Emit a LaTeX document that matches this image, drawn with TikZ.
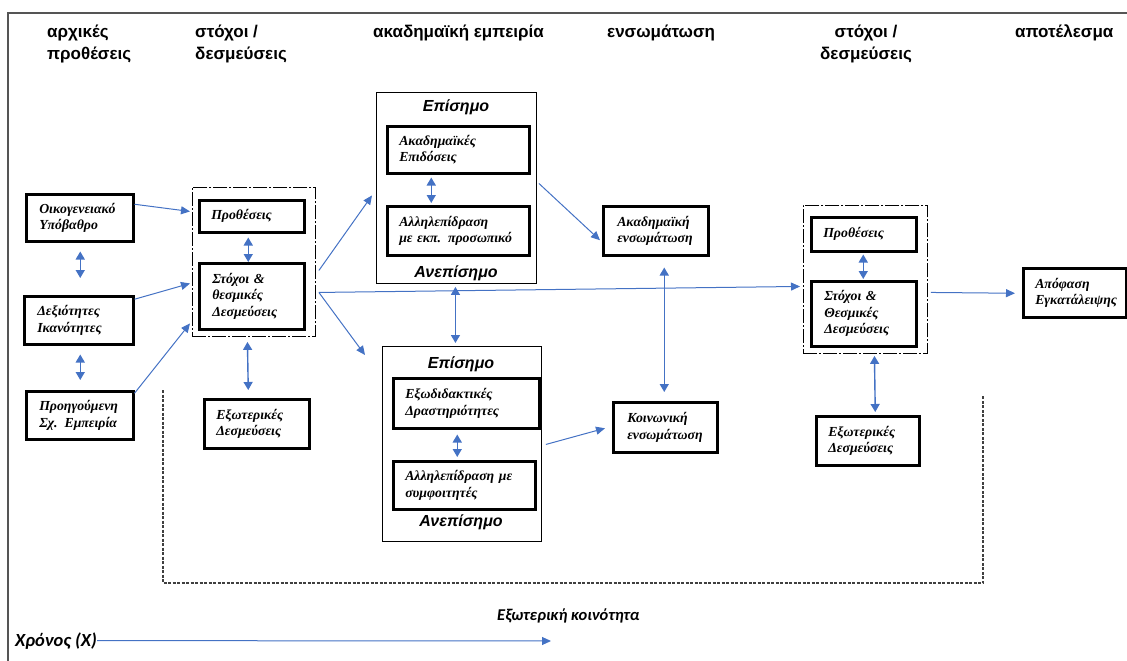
\documentclass[tikz,border=0pt]{standalone}
\usepackage{fontspec}
\newfontfamily\sansb{Liberation Sans Bold}
\newfontfamily\sansbi{Liberation Sans Bold Italic}
\newfontfamily\serbi{Liberation Serif Bold Italic}
\newfontfamily\calbi{Carlito Bold Italic}
\usetikzlibrary{arrows.meta,calc}
\definecolor{arrblue}{HTML}{4472C4}
\definecolor{framegray}{HTML}{555555}
\tikzset{
  hdr/.style={anchor=north west, inner sep=0pt, align=left, font=\sansb\fontsize{17}{21.5}\selectfont},
  bx/.style={draw, line width=2.5pt, anchor=north west, inner xsep=12pt, inner ysep=0pt, align=left,
             font=\serbi\fontsize{13.8}{16.5}\selectfont},
  outerbx/.style={draw, line width=0.9pt, anchor=north west, inner sep=0pt},
  dashbx/.style={draw, line width=0.9pt, anchor=north west, inner sep=0pt, dash pattern=on 14pt off 2pt on 2pt off 2pt},
  sub/.style={font=\sansbi\fontsize{16}{19}\selectfont, inner sep=0pt},
  arr/.style={arrblue, line width=1pt, -{Triangle[length=9pt,width=8pt]}},
  darr/.style={arrblue, line width=1.4pt, {Triangle[length=8pt,width=9pt]}-{Triangle[length=8pt,width=9pt]}},
}
\begin{document}
\begin{tikzpicture}[x=1pt,y=-1pt]
\useasboundingbox (0,0) rectangle (1127,661);
% outer frame
\draw[framegray, line width=1.6pt] (8,661) -- (8,13) -- (1127,13);

% headers
\node[hdr] (h1) at (47,25) {αρχικές\\προθέσεις};
\node[hdr] (h2) at (195,25) {στόχοι /\\δεσμεύσεις};
\node[hdr] (h3) at (373,25) {ακαδημαϊκή εμπειρία};
\node[hdr] (h4) at (607,25) {ενσωμάτωση};
\node[hdr, align=center, anchor=north] (h5) at (866,25) {στόχοι /\\δεσμεύσεις};
\node[hdr] (h6) at (1015,25) {αποτέλεσμα};

% left column
\node[bx, minimum width=107pt, minimum height=47pt, text width=81pt, inner xsep=13pt] (fam) at (25,193) {Οικογενειακό\\Υπόβαθρο};
\node[bx, minimum width=109pt, minimum height=48pt, text width=83pt, inner xsep=13pt] (skl) at (23,295) {Δεξιότητες\\Ικανότητες};
\node[bx, minimum width=107pt, minimum height=48pt, text width=81pt, inner xsep=13pt] (prev) at (25,390) {Προηγούμενη\\Σχ. Εμπειρία};

% goals 1
\node[dashbx, minimum width=123pt, minimum height=149pt] (dash1) at (192,187) {};
\node[bx, minimum width=105pt, minimum height=32pt, text width=81pt] (int1) at (198,199) {Προθέσεις};
\node[bx, minimum width=105pt, minimum height=66pt, text width=79pt, inner xsep=13pt] (goal1) at (198,262) {Στόχοι \&\\θεσμικές\\Δεσμεύσεις};
\node[bx, minimum width=105pt, minimum height=49pt, text width=81pt] (ext1) at (203,398) {Εξωτερικές\\Δεσμεύσεις};

% academic experience
\node[outerbx, minimum width=160pt, minimum height=191pt] (acU) at (376,92) {};
\node[sub] (acUf) at (456,107) {Επίσημο};
\node[sub] (acUi) at (456,273) {Ανεπίσημο};
\node[bx, minimum width=142pt, minimum height=47pt, text width=118pt] (perf) at (386,125) {Ακαδημαϊκές\\Επιδόσεις};
\node[bx, minimum width=142pt, minimum height=49pt, text width=118pt] (staff) at (386,205) {Αλληλεπίδραση\\με εκπ. προσωπικό};

\node[outerbx, minimum width=159pt, minimum height=195pt] (acL) at (382,346) {};
\node[sub] (acLf) at (461,364) {Επίσημο};
\node[sub] (acLi) at (461,522) {Ανεπίσημο};
\node[bx, minimum width=146pt, minimum height=50pt, text width=122pt] (extra) at (392,377) {Εξωδιδακτικές\\Δραστηριότητες};
\node[bx, minimum width=142pt, minimum height=48pt, text width=118pt] (peers) at (392,460) {Αλληλεπίδραση με\\συμφοιτητές};

% integration
\node[bx, minimum width=105pt, minimum height=49pt, text width=77pt, inner xsep=14pt] (acint) at (602,205) {Ακαδημαϊκή\\ενσωμάτωση};
\node[bx, minimum width=104pt, minimum height=50pt, text width=76pt, inner xsep=14pt] (soc) at (612,401) {Κοινωνική\\ενσωμάτωση};

% goals 2
\node[dashbx, minimum width=124pt, minimum height=148pt] (dash2) at (803,205) {};
\node[bx, minimum width=105pt, minimum height=34pt, text width=81pt] (int2) at (810,216) {Προθέσεις};
\node[bx, minimum width=105pt, minimum height=65pt, text width=79pt, inner xsep=13pt] (goal2) at (810,280) {Στόχοι \&\\Θεσμικές\\Δεσμεύσεις};
\node[bx, minimum width=103pt, minimum height=49pt, text width=79pt] (ext2) at (815,415) {Εξωτερικές\\Δεσμεύσεις};

% outcome
\node[bx, minimum width=103pt, minimum height=49pt, text width=79pt, inner xsep=12pt] (dec) at (1022,267) {Απόφαση\\Εγκατάλειψης};

% external community dotted frame
\draw[black!75, line width=1.1pt, dash pattern=on 3pt off 1.5pt] (163,390) -- (163,583) -- (983,583) -- (983,395);

% bottom texts
\node[anchor=base west, inner sep=0pt, font=\calbi\fontsize{16.5}{20}\selectfont] (comm) at (497,620) {Εξωτερική κοινότητα};
\node[anchor=base west, inner sep=0pt, font=\calbi\fontsize{18.5}{22}\selectfont] (time) at (15,646) {Χρόνος (Χ)};
\coordinate (timeend) at (551,641);
\draw[arr] (time.east) -- (timeend);

% arrows left -> goals1
\draw[arr] ([yshift=13.5pt]fam.east) -- ([xshift=-2pt,yshift=50.5pt]dash1.west);
\draw[arr] ([yshift=21pt]skl.east) -- ([xshift=-2pt,yshift=-21.5pt]dash1.west);
\draw[arr] ([yshift=22pt]prev.east) -- ([xshift=-2pt,yshift=-61.5pt]dash1.west);
\draw[darr] ([xshift=0.5pt,yshift=-9pt]fam.south) -- ([xshift=1.5pt,yshift=17pt]skl.north);
\draw[darr] ([xshift=1.5pt,yshift=-9pt]skl.south) -- ([xshift=0.5pt,yshift=10pt]prev.north);
\draw[darr] ([xshift=-3.5pt,yshift=-4pt]int1.south) -- ([xshift=-3.5pt,yshift=0pt]goal1.north);
\draw[darr] ([xshift=-6.5pt,yshift=-5pt]dash1.south) -- ([xshift=-8.5pt,yshift=8pt]ext1.north);

% goals1 -> academic
\draw[arr] ([xshift=3pt,yshift=-8.5pt]dash1.east) -- ([xshift=-4pt,yshift=-7.5pt]acU.west);
\draw[arr] ([xshift=3pt,yshift=-30.5pt]dash1.east) -- ([xshift=-17pt,yshift=-9pt]acL.north west);
\draw[arr] ([xshift=3pt,yshift=-30.5pt]dash1.east) -- ([xshift=-3pt,yshift=-7pt]dash2.west);

\draw[darr] ([xshift=-27pt,yshift=-3pt]perf.south) -- ([xshift=-27pt,yshift=2pt]staff.north);
\draw[darr] ([xshift=-1pt,yshift=-3pt]acU.south) -- ([xshift=-6.5pt,yshift=3pt]acL.north);
\draw[darr] ([xshift=-9pt,yshift=-5pt]extra.south) -- ([xshift=-7pt,yshift=3pt]peers.north);

% academic -> integration
\draw[arr] ([xshift=2pt,yshift=4.5pt]acU.east) -- ([xshift=-2pt,yshift=-9.5pt]acint.west);
\draw[arr] ([xshift=4pt,yshift=-0.5pt]acL.east) -- ([xshift=-7pt,yshift=-1pt]soc.west);
\draw[darr] ([xshift=8.5pt,yshift=-11pt]acint.south) -- ([xshift=-1pt,yshift=9pt]soc.north);

% goals 2
\draw[darr] ([xshift=-0.5pt,yshift=-2pt]int2.south) -- ([xshift=-0.5pt,yshift=1pt]goal2.north);
\draw[darr] ([xshift=9pt,yshift=-2pt]dash2.south) -- ([xshift=7.5pt,yshift=3pt]ext2.north);
\draw[arr] ([xshift=3pt,yshift=-13pt]dash2.east) -- ([xshift=-7pt,yshift=-0.5pt]dec.west);
\end{tikzpicture}
\end{document}
